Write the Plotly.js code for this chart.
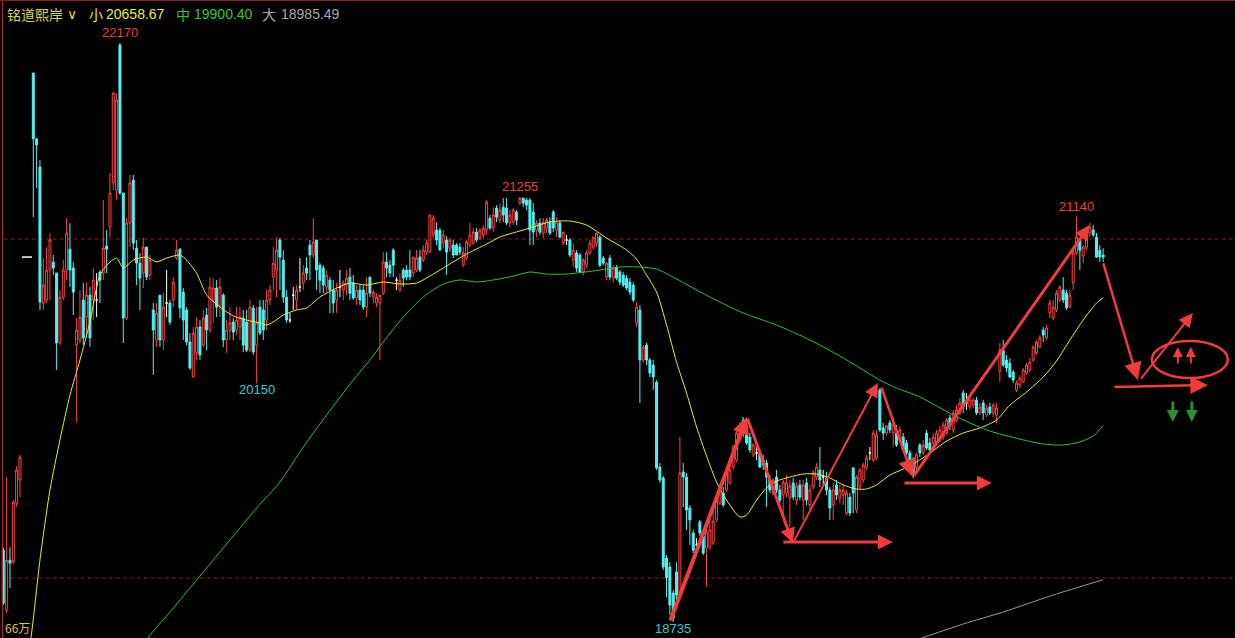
<!DOCTYPE html>
<html>
<head>
<meta charset="utf-8">
<script src="https://cdn.plot.ly/plotly-3.0.1.min.js"></script>
<style>
  html, body { margin: 0; padding: 0; background: #000; overflow: hidden; }
  #chart { width: 1235px; height: 638px; }
</style>
</head>
<body>
<div id="chart"></div>
<script>
// ---- candle data (one entry per bar, null = no trading in that slot) ----
const opens = [19161,18806,19102,19090,19440,19577,null,null,null,
21992,21601,21434,20627,20645,20823,20870,20805,20390,20662,20823,
20947,20835,20378,20408,20645,20544,20674,20645,20645,20811,
20805,20965,21078,21340,21298,22158,21280,20538,21102,21357,
20953,20864,20805,20959,20793,20586,20408,20674,20408,20627,
20627,20645,20894,20947,20692,20586,20396,20188,20331,20485,
20378,20556,20467,20645,20716,20615,20674,20408,20467,20514,
20467,20485,20538,20514,20348,20598,20378,20603,20586,20526,
20645,20781,20823,21001,20882,20662,20526,20674,20645,20722,
20746,20835,20971,20912,21001,20852,20835,20722,20763,20704,
20645,20722,20704,20734,20781,20746,20657,20704,20704,20603,
20781,20662,20627,20627,20686,20870,20852,20941,20763,20704,
20823,20823,20823,20805,20823,20900,20882,20929,20929,21031,
21060,21060,20983,21001,20953,20971,20971,20959,20852,20894,
20971,20983,21048,21013,21031,21060,21131,21072,21191,21119,
21196,21191,21102,21107,21167,21220,21250,21238,21238,21167,
21060,21102,21042,21072,21107,21167,21060,21102,20983,21001,
21001,20882,20924,20912,20811,20852,20924,20959,20983,21018,
20894,20781,20894,20775,20841,20811,20793,20775,20751,20734,
20509,20586,20289,20378,20289,20259,20158,19654,19589,19114,
19061,18907,19032,18907,19625,19595,19411,19263,19192,19328,
19245,19174,19179,19203,19340,19440,19500,19518,19560,19654,
19696,19815,19933,19898,19832,19726,19738,19738,19696,19678,
19577,19500,19595,19518,19488,19500,19470,19560,19458,19548,
19458,19560,19429,19536,19595,19637,19595,19589,19518,19429,
19548,19470,19488,19381,19476,19649,19399,19536,19577,19654,
19738,19696,19708,20111,19886,19856,19916,19856,19856,19815,
19832,19797,19738,19696,19654,19785,19738,19856,19797,19797,
19797,19815,19832,19856,19945,19874,19933,19975,20093,20034,
20010,20022,20052,19975,20034,19963,20010,19975,19963,20221,
20348,20289,20271,20218,20111,20141,20158,20212,20230,20289,
20331,20366,20467,20420,20568,20538,20586,20645,20704,20686,
20603,20746,20924,21001,20906,20959,21042,21060,21018,20941,
20912];

const highs = [19179,19595,19179,19458,19660,19726,null,null,null,
21992,21607,21476,20894,20959,21042,20912,20805,20704,20882,21131,
21102,20870,20538,20704,20746,20751,20722,20835,20805,20823,
21238,21060,21399,21879,21873,22170,21280,21131,21387,21387,
21001,20924,21013,20959,20912,20627,20627,20674,20686,20823,
20645,20781,21001,20953,20716,20603,20449,20485,20544,20526,
20586,20598,20781,20775,20763,20775,20686,20526,20603,20538,
20603,20603,20586,20586,20645,20615,20603,20645,20645,20704,
20734,20959,21018,21013,20941,20704,20568,20722,20734,20894,
20852,20900,21001,21131,21001,20864,20852,20823,20781,20763,
20746,20823,20763,20823,20835,20793,20734,20734,20734,20781,
20781,20704,20686,20674,20929,20929,20882,20953,20781,20805,
20835,20852,20941,20900,20941,20941,20971,21001,21149,21149,
21107,21072,21060,21024,21013,21001,20983,20983,20959,21001,
21102,21072,21072,21072,21090,21238,21149,21196,21208,21220,
21250,21250,21179,21191,21179,21255,21250,21250,21250,21220,
21119,21131,21131,21131,21137,21179,21137,21119,21048,21031,
21013,20983,20941,20924,20894,20941,21001,21018,21048,21031,
20906,20870,20912,20852,20852,20823,20811,20793,20775,20751,
20633,20615,20378,20390,20301,20289,20170,19678,19601,19132,
19090,18925,19090,19832,19678,19619,19429,19281,19233,19340,
19257,19292,19340,19399,19476,19548,19536,19637,19666,19785,
19874,19921,19951,19910,19856,19797,19773,19755,19726,19696,
19607,19589,19637,19548,19577,19607,19577,19589,19565,19577,
19577,19589,19548,19637,19678,19773,19637,19625,19536,19560,
19577,19548,19548,19518,19500,19654,19607,19649,19678,19726,
19773,19874,19874,20123,19916,19904,19933,19951,19904,19898,
19856,19815,19755,19714,19738,19797,19815,19874,19826,19856,
19874,19898,19921,19945,19963,19993,20022,20064,20111,20093,
20070,20064,20070,20034,20052,20022,20034,20034,20034,20390,
20408,20319,20301,20230,20170,20200,20242,20271,20301,20378,
20408,20437,20485,20497,20645,20645,20704,20734,20781,20704,
20704,20941,21140,21013,20971,21060,21102,21090,21042,20971,
20953];

const lows = [18835,18788,18936,19078,19416,19476,null,null,null,
21137,21310,20586,20586,20627,20645,20793,20230,20378,20645,20763,
20722,20556,19921,20390,20378,20425,20366,20526,20544,20627,
20763,20805,21018,21298,21238,21268,20390,20526,20959,20941,
20734,20586,20716,20763,20763,20200,20366,20366,20348,20544,
20497,20603,20882,20538,20408,20378,20230,20182,20289,20289,
20366,20348,20449,20509,20544,20544,20366,20331,20408,20408,
20437,20408,20336,20336,20336,20319,20150,20437,20408,20467,
20615,20704,20662,20704,20627,20509,20509,20586,20586,20692,
20704,20763,20763,20894,20704,20686,20686,20692,20568,20568,
20568,20662,20645,20674,20645,20645,20615,20615,20586,20544,
20662,20627,20603,20289,20674,20781,20781,20781,20704,20692,
20722,20763,20763,20781,20811,20811,20870,20912,20924,21013,
20971,20941,20953,20793,20929,20894,20912,20912,20840,20882,
20959,20971,20989,21001,21013,21031,21060,21048,21107,21102,
21107,21090,21078,21090,21090,21208,21196,21179,20971,20971,
21018,21031,21013,21042,21031,21048,21018,21018,20971,20971,
20900,20840,20811,20805,20793,20835,20912,20941,20959,20840,
20852,20763,20763,20746,20763,20734,20722,20704,20674,20633,
20485,20034,20271,20259,20188,20111,19637,19560,19043,18883,
18776,18735,18865,18883,19416,19281,19192,19144,19144,19245,
19132,18942,19161,19192,19328,19429,19416,19506,19548,19637,
19684,19797,19832,19785,19738,19714,19696,19649,19637,19416,
19500,19488,19500,19440,19364,19476,19298,19458,19429,19458,
19340,19429,19399,19518,19577,19536,19548,19488,19340,19340,
19458,19440,19429,19369,19364,19381,19381,19518,19560,19637,
19696,19684,19696,19862,19815,19844,19856,19773,19773,19803,
19755,19726,19666,19589,19637,19714,19726,19755,19738,19773,
19785,19803,19815,19844,19874,19856,19921,19963,19975,19993,
19993,20004,19963,19963,19933,19951,19963,19951,19916,20158,
20247,20218,20182,20153,20099,20123,20153,20200,20218,20277,
20319,20360,20396,20408,20538,20526,20574,20633,20627,20586,
20598,20704,20912,20823,20864,20941,21018,21018,20894,20870,
20870];

const closes = [18847,19102,19084,19446,19637,19714,null,null,null,
21601,21565,20633,20734,20823,21001,20835,20390,20662,20823,21042,
20823,20692,20467,20544,20420,20674,20420,20763,20645,20763,
20953,20947,21280,21873,21832,21280,20538,21102,21340,20983,
20864,20775,20959,20781,20882,20467,20568,20408,20603,20627,
20514,20751,20941,20598,20526,20396,20242,20449,20485,20319,
20538,20467,20722,20716,20603,20722,20408,20467,20509,20455,
20526,20544,20378,20348,20603,20336,20509,20449,20467,20645,
20704,20864,20941,20900,20662,20526,20526,20674,20704,20722,
20805,20805,20912,20989,20823,20763,20734,20793,20704,20627,
20704,20722,20746,20775,20686,20657,20704,20645,20603,20686,
20686,20692,20662,20674,20870,20835,20805,20852,20763,20763,
20775,20781,20781,20900,20894,20823,20941,20983,21149,21131,
21001,20941,21031,20929,21001,20912,20912,20929,20924,20989,
21031,21048,21001,21060,21072,21226,21072,21149,21137,21179,
21149,21102,21149,21179,21119,21250,21220,21208,21060,21048,
21102,21048,21107,21119,21042,21072,21107,21018,21048,21001,
20912,20941,20835,20811,20882,20924,20983,21018,21042,20852,
20864,20864,20781,20835,20775,20751,20734,20716,20692,20645,
20603,20289,20366,20289,20212,20188,19649,19577,19061,18998,
18835,18758,18895,19619,19595,19399,19340,19161,19192,19263,
19144,19269,19281,19334,19458,19536,19429,19619,19637,19773,
19856,19898,19856,19797,19755,19785,19738,19654,19666,19595,
19518,19577,19518,19458,19565,19560,19542,19476,19542,19476,
19548,19458,19518,19619,19654,19577,19595,19518,19411,19518,
19488,19518,19518,19500,19381,19500,19595,19637,19666,19708,
19738,19856,19844,19874,19856,19898,19874,19904,19785,19874,
19755,19738,19678,19607,19726,19738,19785,19767,19755,19832,
19856,19874,19904,19933,19898,19975,19993,20034,20010,20034,
20052,20052,19975,20010,19975,20004,19975,20022,20004,20348,
20259,20242,20188,20170,20153,20182,20230,20259,20277,20366,
20396,20420,20437,20479,20627,20603,20686,20722,20645,20598,
20674,20924,21018,20941,20959,21042,21078,21031,20900,20900,
20900];

// ---- moving averages, sampled at bar positions ----
const maShortIdx = [8,9,11,14,17,20,23,26,29,32,34,36,39,43,46,49,53,55,58,61,65,69,73,77,79,81,84,88,91,95,100,104,109,114,119,124,128,132,139,145,149,157,164,170,175,181,187,190,193,196,199,202,205,208,211,214,217,221,223,226,229,232,236,240,244,248,252,256,259,262,266,270,274,278,283,288,293,298,302,307,312,316,320,324,328,330];
const maShortVal = [18592,18752,19103,19518,19815,20081,20289,20515,20793,20871,20894,20835,20882,20900,20871,20894,20912,20882,20805,20675,20604,20550,20526,20509,20497,20515,20556,20586,20598,20663,20716,20746,20734,20752,20740,20746,20787,20835,20918,20977,21019,21066,21108,21114,21090,21013,20942,20888,20793,20693,20497,20277,20093,19892,19720,19565,19458,19358,19369,19458,19530,19571,19595,19613,19613,19589,19548,19524,19524,19548,19607,19642,19684,19737,19808,19856,19886,19933,20022,20099,20188,20283,20408,20526,20627,20658.67];

const maMidIdx = [43,45,50,55,60,63,70,76,83,90,97,105,110,114,120,126,132,137,142,147,152,158,163,169,179,185,191,196,202,212,222,232,242,251,258,263,268,275,285,295,305,312,318,323,327,330];
const maMidVal = [18628,18681,18794,18913,19031,19103,19269,19411,19565,19773,19963,20170,20289,20396,20544,20663,20740,20764,20752,20764,20782,20811,20799,20799,20823,20841,20841,20829,20770,20663,20568,20497,20408,20313,20230,20170,20123,20070,19963,19874,19820,19791,19785,19803,19838,19900.40];

const maLongIdx = [273,288,300,315,330];
const maLongVal = [18622,18723,18794,18895,18985.49];

// ---- reference levels and marked extremes ----
const levelLines = [21007, 18996];
const peakBars = [35, 155, 322];
const troughBars = [76, 201];

// ---- hand-drawn trend strokes: tail [bar, price] -> head [bar, price] ----
const strokeTail = [[200.0,18735],[223.1,19951],[236.9,19203],[233.6,19209],[263.3,20135],[272.9,19595],[269.9,19559],[329.9,20871],[341.0,20170],[332.9,20129]];
const strokeHead = [[223.1,19951],[236.9,19203],[262.4,20153],[266.9,19209],[272.9,19595],[326.0,21090],[296.6,19559],[340.4,20170],[356.9,20568],[361.4,20141]];
const strokeWidth = [4,3,2,3,2.5,3,3,2.5,2,2.5];
const ringBox = [344.6, 367.4, 20182, 20402];
const upTicks = [352.4, 356.3];
const upTickRange = [20259, 20366];
const downTicks = [350.9, 356.6];
const downTickRange = [20052, 19921];

const UP = '#ff4040', DOWN = '#54f0f0', PEN = '#f23c3c';

const bars = opens.map((_, i) => i).filter(i => opens[i] !== null);
const bodyBars = bars.filter(i => opens[i] !== closes[i]);
const dojiBars = bars.filter(i => opens[i] === closes[i]);
const pick = (arr, set) => set.map(i => arr[i]);

const traces = [
  {
    type: 'candlestick', x: bodyBars,
    open: pick(opens, bodyBars), high: pick(highs, bodyBars),
    low: pick(lows, bodyBars), close: pick(closes, bodyBars),
    increasing: { line: { color: UP, width: 1 }, fillcolor: '#000' },
    decreasing: { line: { color: DOWN, width: 1 }, fillcolor: DOWN },
    whiskerwidth: 0, hoverinfo: 'skip', showlegend: false
  },
  {
    type: 'candlestick', x: dojiBars,
    open: pick(opens, dojiBars), high: pick(highs, dojiBars),
    low: pick(lows, dojiBars), close: pick(closes, dojiBars),
    increasing: { line: { color: '#ffffff', width: 1 }, fillcolor: '#ffffff' },
    decreasing: { line: { color: '#ffffff', width: 1 }, fillcolor: '#ffffff' },
    whiskerwidth: 0, hoverinfo: 'skip', showlegend: false
  },
  { type: 'scatter', mode: 'lines', x: maShortIdx, y: maShortVal,
    line: { color: '#ecec3c', width: 1, shape: 'spline', smoothing: 0.7 }, hoverinfo: 'skip', showlegend: false },
  { type: 'scatter', mode: 'lines', x: maMidIdx, y: maMidVal,
    line: { color: '#34c034', width: 1, shape: 'spline', smoothing: 0.7 }, hoverinfo: 'skip', showlegend: false },
  { type: 'scatter', mode: 'lines', x: maLongIdx, y: maLongVal,
    line: { color: '#9a9a9a', width: 1, shape: 'spline', smoothing: 0.7 }, hoverinfo: 'skip', showlegend: false }
];

const W = 1235, H = 638;
const px = v => v / W;
const py = v => 1 - v / H;
const numFont = { family: 'Liberation Sans, Arial, sans-serif', size: 13 };
const headNum = { family: 'Liberation Sans, Arial, sans-serif', size: 14 };
const cjkFont = { family: 'Noto Sans CJK SC, sans-serif', size: 14 };

const annotations = [];

// header line
const header = [
  { t: '铭道熙岸', x: 5, c: '#ddd35a', f: cjkFont },
  { t: '∨', x: 65, c: '#ddd35a', f: headNum },
  { t: '小', x: 87, c: '#ecec3c', f: cjkFont },
  { t: maShortVal[maShortVal.length - 1].toFixed(2), x: 104, c: '#ecec3c', f: headNum },
  { t: '中', x: 174, c: '#34c834', f: cjkFont },
  { t: maMidVal[maMidVal.length - 1].toFixed(2), x: 192, c: '#34c834', f: headNum },
  { t: '大', x: 260, c: '#a8a8a8', f: cjkFont },
  { t: maLongVal[maLongVal.length - 1].toFixed(2), x: 279, c: '#a8a8a8', f: headNum }
];
header.forEach(h => annotations.push({
  xref: 'paper', yref: 'paper', x: px(h.x), y: py(14), xanchor: 'left', yanchor: 'middle',
  text: h.t, showarrow: false, font: Object.assign({}, h.f, { color: h.c })
}));

annotations.push({
  xref: 'paper', yref: 'paper', x: px(3), y: py(627), xanchor: 'left', yanchor: 'middle',
  text: '66万', showarrow: false, font: { family: 'Noto Sans CJK SC, sans-serif', size: 12, color: '#e0c040' }
});

// extreme value labels
peakBars.forEach(i => annotations.push({
  x: i, y: highs[i], xref: 'x', yref: 'y', text: String(highs[i]), showarrow: false,
  xanchor: 'center', yanchor: 'bottom', yshift: 1, font: Object.assign({}, numFont, { color: '#e8403c' })
}));
troughBars.forEach(i => annotations.push({
  x: i, y: lows[i], xref: 'x', yref: 'y', text: String(lows[i]), showarrow: false,
  xanchor: 'center', yanchor: 'top', yshift: 3, font: Object.assign({}, numFont, { color: '#3cc8d0' })
}));

// trend strokes
strokeTail.forEach((t, k) => annotations.push({
  x: strokeHead[k][0], y: strokeHead[k][1], ax: t[0], ay: t[1],
  xref: 'x', yref: 'y', axref: 'x', ayref: 'y', text: '', showarrow: true,
  arrowhead: 2, arrowsize: strokeWidth[k] >= 4 ? 0.85 : (strokeWidth[k] >= 3 ? 1.0 : 1.4),
  arrowwidth: strokeWidth[k], arrowcolor: PEN, standoff: 0, startstandoff: 0
}));
upTicks.forEach(b => annotations.push({
  x: b, y: upTickRange[1], ax: b, ay: upTickRange[0], xref: 'x', yref: 'y', axref: 'x', ayref: 'y',
  text: '', showarrow: true, arrowhead: 2, arrowsize: 1.0, arrowwidth: 2, arrowcolor: PEN, standoff: 0
}));
downTicks.forEach(b => annotations.push({
  x: b, y: downTickRange[1], ax: b, ay: downTickRange[0], xref: 'x', yref: 'y', axref: 'x', ayref: 'y',
  text: '', showarrow: true, arrowhead: 2, arrowsize: 0.8, arrowwidth: 3, arrowcolor: '#2e8e2e', standoff: 0
}));

const shapes = [];
levelLines.forEach(v => shapes.push({
  type: 'line', xref: 'paper', yref: 'y', x0: 0.003, x1: 1, y0: v, y1: v, layer: 'below',
  line: { color: '#8c1e1e', width: 1, dash: '4px,3px' }
}));
shapes.push({ type: 'line', xref: 'paper', yref: 'paper', x0: px(2.5), x1: px(2.5), y0: 0, y1: 1,
  line: { color: '#a82a2a', width: 1 } });
shapes.push({ type: 'line', xref: 'paper', yref: 'paper', x0: 0, x1: 1, y0: py(0.5), y1: py(0.5),
  line: { color: '#8c2020', width: 1 } });
shapes.push({ type: 'line', xref: 'x', yref: 'y', x0: 5.6, x1: 8.6, y0: 20900, y1: 20900,
  line: { color: '#ffffff', width: 1.5 } });
shapes.push({ type: 'circle', xref: 'x', yref: 'y', x0: ringBox[0], x1: ringBox[1], y0: ringBox[2], y1: ringBox[3],
  line: { color: PEN, width: 2.5 } });

const layout = {
  width: W, height: H,
  margin: { l: 0, r: 0, t: 0, b: 0 },
  paper_bgcolor: '#000', plot_bgcolor: '#000',
  boxgap: 0.15,
  xaxis: { range: [-0.99, 369.55], visible: false, rangeslider: { visible: false }, fixedrange: true },
  yaxis: { range: [18640, 22425], visible: false, fixedrange: true },
  showlegend: false, hovermode: false, dragmode: false,
  annotations: annotations, shapes: shapes
};

Plotly.newPlot('chart', traces, layout, { staticPlot: true, displayModeBar: false });
</script>
</body>
</html>
